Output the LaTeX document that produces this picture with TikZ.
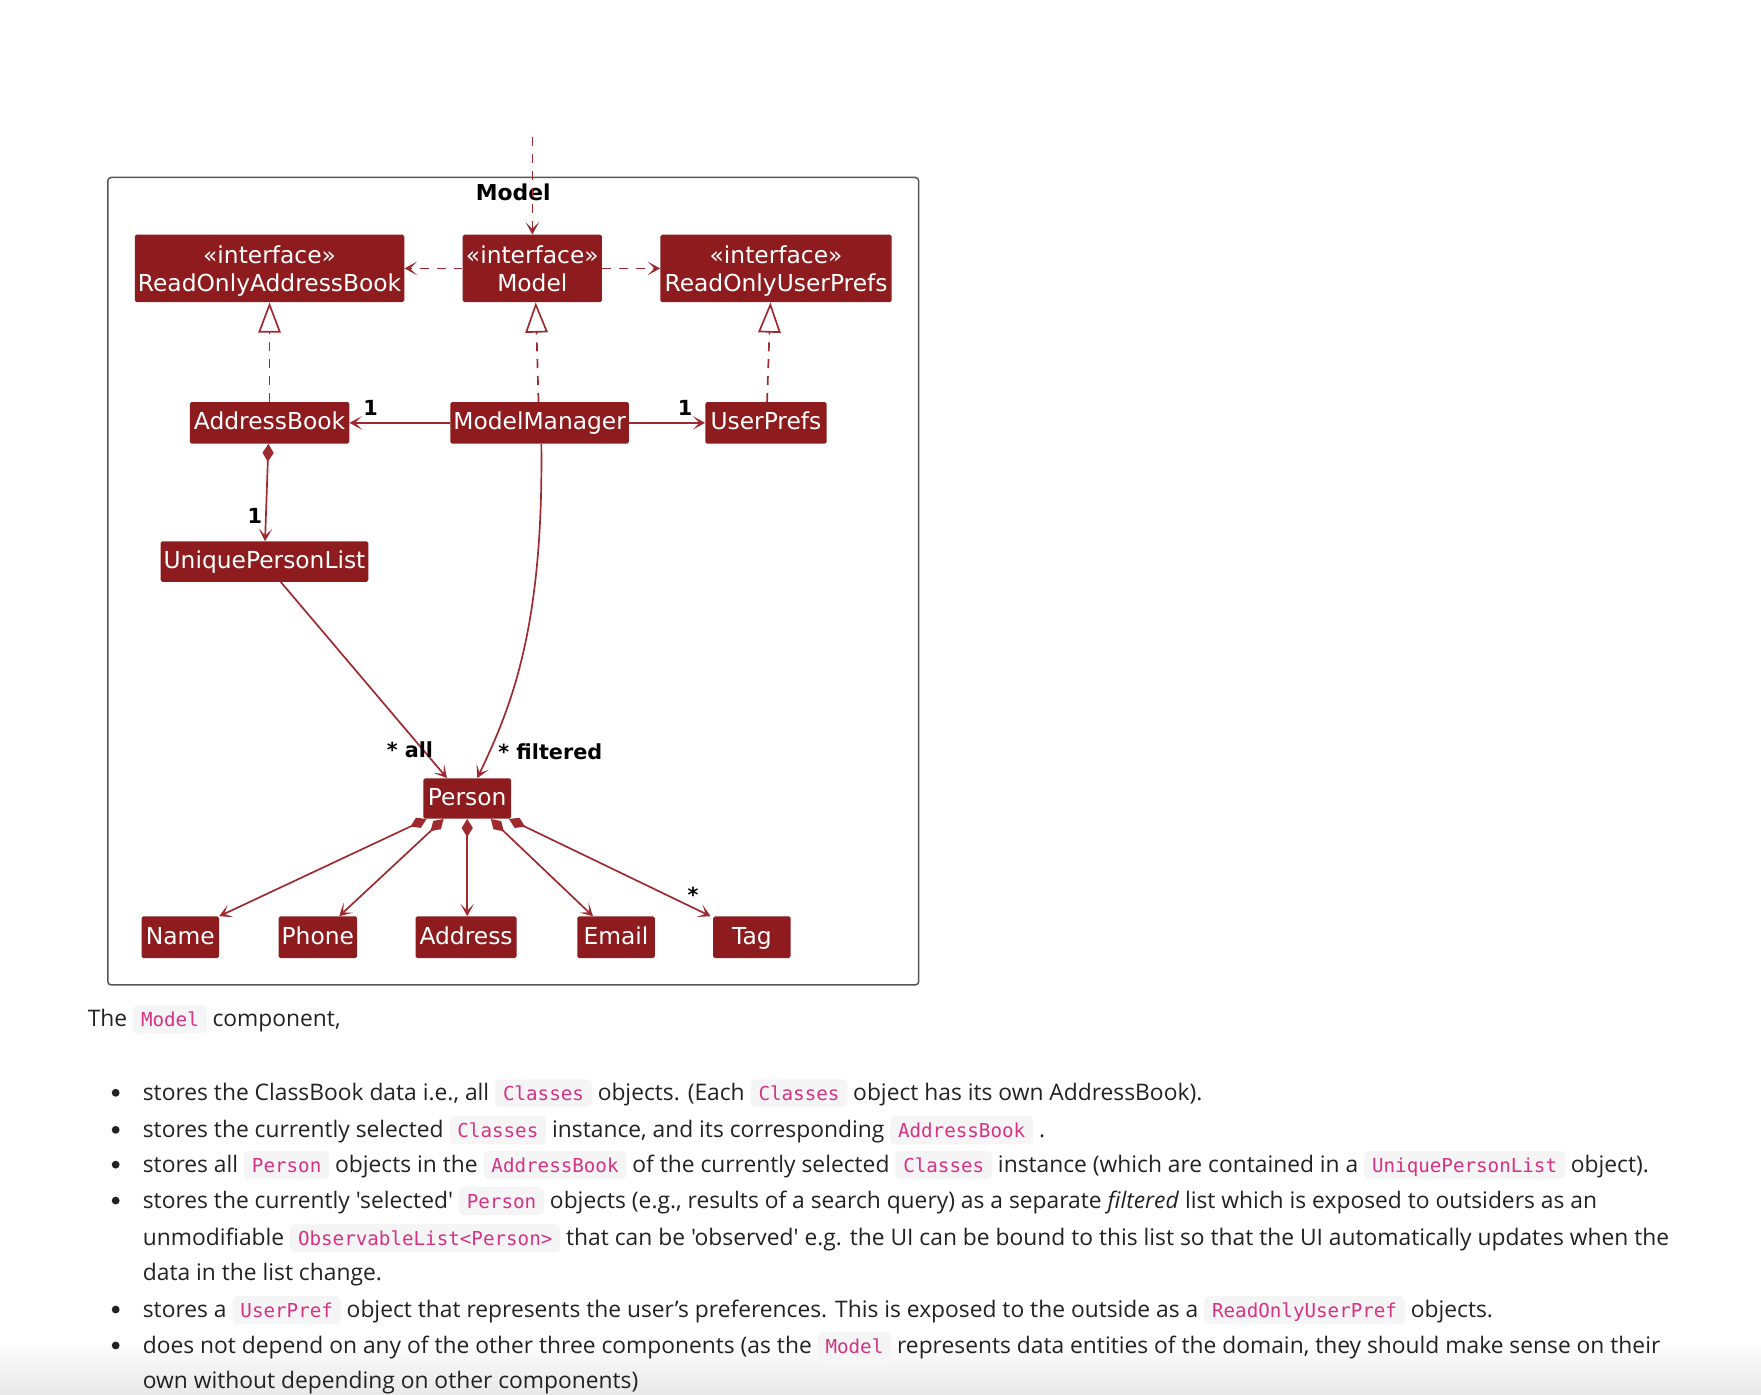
\documentclass[tikz,border=0pt]{standalone}
\usepackage{fontspec}
\setmainfont{DejaVu Sans}
\newfontfamily\dia{DejaVu Sans}
\newfontfamily\bodyfont[Ligatures=TeXOff]{Open Sans}
\newfontfamily\codefont[Ligatures=TeXOff]{DejaVu Sans Mono}
\usetikzlibrary{arrows.meta,calc}
\definecolor{boxred}{HTML}{8E1B1E}
\definecolor{linered}{HTML}{9E2A30}
\definecolor{codepink}{HTML}{D63384}
\definecolor{codebg}{HTML}{F5F5F5}
\definecolor{frameg}{HTML}{555555}
\definecolor{bodytxt}{HTML}{222222}
\tikzset{
  cls/.style={fill=boxred, text=white, font=\dia\fontsize{20.8}{25}\selectfont,
    inner sep=0pt, rounded corners=1.5pt, align=center},
  cls1/.style={cls, text height=15pt, text depth=2.5pt},
  conn/.style={draw=linered, line width=1.5pt},
  headtip/.style={-{Stealth[length=11pt,width=12pt,inset=6pt]}},
  dep/.style={conn, dash pattern=on 8pt off 7pt, headtip},
  real/.style={conn, dash pattern=on 8pt off 7pt, -{Triangle[open, length=27pt, width=20pt, fill=white]}},
  assoc/.style={conn, headtip},
  comp/.style={conn, {Diamond[length=16pt,width=10pt]}-{Stealth[length=11pt,width=12pt,inset=6pt]}},
  mult/.style={font=\dia\bfseries\fontsize{18.5}{22}\selectfont, text=black, inner sep=0pt},
  txtline/.style={anchor=base west, inner sep=0pt, font=\bodyfont\fontsize{20.3}{24}\selectfont, text=bodytxt},
  cdbox/.style={fill=codebg, rounded corners=4pt, text=codepink, font=\codefont\fontsize{17.1}{20}\selectfont,
    inner xsep=7pt, inner ysep=0pt, text height=19pt, text depth=6pt, anchor=base},
  bullet/.style={circle, fill=bodytxt, inner sep=0pt, minimum size=7pt}
}
\newcommand\cd[1]{\tikz[baseline=(cdn.base)]\node[cdbox](cdn){#1};}
\newcommand\topstrut{\rule{0pt}{19.8pt}}
\begin{document}
\begin{tikzpicture}[x=1pt,y=-1pt]
\useasboundingbox (0,0) rectangle (1568,1242.1);
\shade[top color=white, bottom color=black!9] (0,1192) rectangle (1568,1242.1);

% frame
\node[draw=frameg, line width=1.3pt, rounded corners=3pt, minimum width=722pt, minimum height=719pt, inner sep=0pt] (frame) at (457,517.5) {};
\node[font=\dia\bfseries\fontsize{19.5}{22}\selectfont, inner sep=0pt] (ftitle) at (457,171) {Model};

% classes
\node[cls, minimum width=240pt, minimum height=60pt] (roab) at (240,239) {\topstrut«interface»\\ReadOnlyAddressBook};
\node[cls, minimum width=124pt, minimum height=60pt] (model) at (474,239) {\topstrut«interface»\\Model\vphantom{y}};
\node[cls, minimum width=206pt, minimum height=60pt] (roup) at (691,239) {\topstrut«interface»\\ReadOnlyUserPrefs};
\node[cls1, minimum width=142pt, minimum height=37pt] (ab) at (240,376.5) {AddressBook};
\node[cls1, minimum width=159pt, minimum height=37pt] (mm) at (480.5,376.5) {ModelManager};
\node[cls1, minimum width=108pt, minimum height=37pt] (up) at (682,376.5) {UserPrefs};
\node[cls1, minimum width=185pt, minimum height=36pt] (upl) at (235.5,500) {UniquePersonList};
\node[cls1, minimum width=78pt, minimum height=36pt] (person) at (416,711) {Person};
\node[cls1, minimum width=69pt, minimum height=37pt] (name) at (160.5,834.5) {Name};
\node[cls1, minimum width=70pt, minimum height=37pt] (phone) at (283,834.5) {Phone};
\node[cls1, minimum width=90pt, minimum height=37pt] (address) at (415,834.5) {Address};
\node[cls1, minimum width=69pt, minimum height=37pt] (email) at (548.5,834.5) {Email};
\node[cls1, minimum width=69pt, minimum height=37pt] (tag) at (669.5,834.5) {Tag};

% connectors
\coordinate (ext) at (474,122);
\draw[dep] (ext) -- (model.north);
\draw[dep] (model.west) -- (roab.east);
\draw[dep] (model.east) -- (roup.west);
\draw[real] (ab.north) -- (roab.south);
\draw[real] ($(mm.north)+(-1,0)$) -- ($(model.south)+(3,0)$);
\draw[real] ($(up.north)+(1,0)$) -- ($(roup.south)+(-5,0)$);
\draw[assoc] (mm.west) -- (ab.east);
\draw[assoc] (mm.east) -- (up.west);
\draw[comp] ($(ab.south)+(-1,0)$) -- ($(upl.north)+(0.5,0)$);
\draw[assoc] ($(upl.south)+(14.5,0)$) -- ($(person.north)+(-18,0)$);
\draw[assoc] ($(mm.south)+(1.5,0)$) .. controls ($(mm.south)+(3.5,165)$) and ($(person.north)+(39,-63)$) .. ($(person.north)+(9,0)$);
\draw[comp] ($(person.south west)+(3,0)$) -- (name.north east);
\draw[comp] ($(person.south)+(-21,0)$) -- ($(phone.north)+(19,0)$);
\draw[comp] (person.south) -- ($(address.north)+(1,0)$);
\draw[comp] ($(person.south)+(21,0)$) -- ($(email.north)+(-20.5,0)$);
\draw[comp] ($(person.south east)+(-2,0)$) -- ($(tag.north west)+(-2,0)$);

% multiplicities
\node[mult] (m1) at (330,363) {1};
\node[mult] (m2) at (610,363) {1};
\node[mult] (m3) at (227,459) {1};
\node[mult] (m4) at (365,668) {* all};
\node[mult] (m5) at (490,669) {* filtered};
\node[mult] (m6) at (617,797) {*};

% text
\node[txtline] (t0) at (78,914) {The \cd{Model} component,};
\node[bullet] (b1) at (103,973) {};
\node[txtline] (t1) at (127,980) {stores the ClassBook data i.e., all \cd{Classes} objects. (Each \cd{Classes} object has its own AddressBook).};
\node[bullet] (b2) at (103,1006) {};
\node[txtline] (t2) at (127,1013) {stores the currently selected \cd{Classes} instance, and its corresponding \cd{AddressBook} .};
\node[bullet] (b3) at (103,1037) {};
\node[txtline] (t3) at (127,1044) {stores all \cd{Person} objects in the \cd{AddressBook} of the currently selected \cd{Classes} instance (which are contained in a \cd{UniquePersonList} object).};
\node[bullet] (b4) at (103,1069) {};
\node[txtline] (t4) at (127,1076) {stores the currently 'selected' \cd{Person} objects (e.g., results of a search query) as a separate \textit{filtered} list which is exposed to outsiders as an};
\node[txtline] (t5) at (127,1109) {unmodifiable \cd{ObservableList<Person>} that can be 'observed' e.g. the UI can be bound to this list so that the UI automatically updates when the};
\node[txtline] (t6) at (127,1140) {data in the list change.};
\node[bullet] (b7) at (103,1166) {};
\node[txtline] (t7) at (127,1173) {stores a \cd{UserPref} object that represents the user’s preferences. This is exposed to the outside as a \cd{ReadOnlyUserPref} objects.};
\node[bullet] (b8) at (103,1198) {};
\node[txtline] (t8) at (127,1205) {does not depend on any of the other three components (as the \cd{Model} represents data entities of the domain, they should make sense on their};
\node[txtline] (t9) at (127,1236) {own without depending on other components)};
\end{tikzpicture}
\end{document}
